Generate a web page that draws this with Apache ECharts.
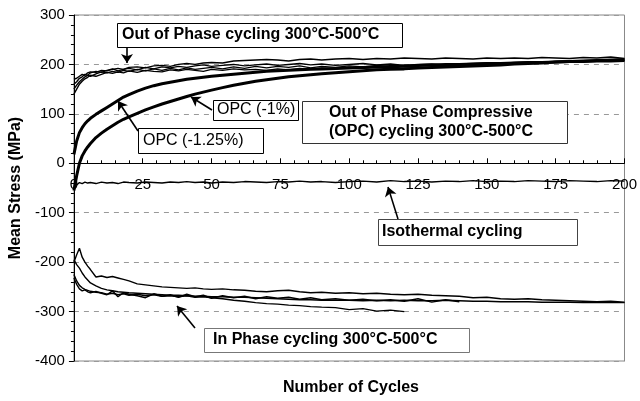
<!DOCTYPE html>
<html>
<head>
<meta charset="utf-8">
<script src="https://cdn.jsdelivr.net/npm/echarts@6.0.0/dist/echarts.min.js"></script>
<style>
  html, body { margin: 0; padding: 0; background: #fff; }
  #chart { width: 640px; height: 401px; }
</style>
</head>
<body>
<div id="chart"></div>
<script>
// cycle numbers shared by all the curves
var cycles = [0, 1, 2, 3, 4, 5, 6, 8, 10, 12, 14, 16, 18, 20, 23, 26, 29, 32, 35, 38,
  41, 44, 47, 50, 54, 58, 62, 66, 70, 74, 78, 82, 86, 90, 95, 100, 105, 110, 115, 120,
  125, 130, 135, 140, 145, 150, 155, 160, 165, 170, 175, 180, 185, 190, 195, 200];

// out of phase cycling (thin)
var oop1 = [170, 172, 176, 180, 178, 183, 185, 184, 188, 187, 190, 192, 190, 194, 195, 193, 197, 198, 196, 200,
  202, 200, 203, 204, 203, 207, 208, 209, 210, 209, 207, 210, 211, 209, 211, 212, 210, 212, 211, 213,
  212, 211, 213, 212, 211, 213, 212, 213, 212, 214, 213, 212, 214, 213, 215, 212];
var oop2 = [160, 165, 172, 175, 180, 178, 183, 186, 184, 188, 191, 187, 190, 192, 189, 194, 191, 195, 193, 196,
  194, 197, 199, 196, 198, 200, 197, 199, 201, 198, 200, 202, 199, 201, 198, 200, 202, 199, 201, 198,
  200, 201, 199, 201, 202, 203, 202, 204, 205, 204, 206, 207, 206, 208, 209, 208];
var oop3 = [150, 158, 165, 170, 175, 178, 176, 181, 185, 183, 186, 184, 188, 186, 190, 187, 191, 188, 192, 189,
  193, 190, 192, 194, 191, 195, 192, 196, 193, 196, 194, 197, 193, 196, 194, 197, 195, 198, 196, 198, 197];
var oop4 = [140, 150, 160, 166, 171, 174, 178, 176, 180, 184, 182, 185, 183, 187, 184, 188, 186, 185, 189, 187,
  190, 188, 186, 190, 188, 191, 189, 190, 188, 191, 189, 192, 190, 193, 191, 194, 192, 195, 193, 195, 194];

// out of phase compressive cycling (thick)
var opc125 = [18, 45, 62, 72, 80, 86, 91, 99, 106, 113, 120, 127, 134, 139, 146, 152, 157, 161, 164, 167,
  170, 172, 174, 176, 178, 180, 182, 184, 186, 187, 188, 189, 190, 191, 192, 193, 194, 195, 196, 197,
  198, 199, 200, 200, 201, 202, 202, 203, 204, 204, 205, 206, 206, 207, 207, 208];
var opc100 = [-55, -25, 0, 15, 25, 33, 40, 52, 61, 69, 76, 83, 89, 94, 101, 108, 114, 120, 125, 130,
  135, 140, 144, 148, 153, 158, 162, 166, 169, 172, 175, 177, 179, 181, 183, 185, 187, 189, 190, 191,
  193, 194, 195, 196, 197, 198, 199, 201, 202, 203, 205, 206, 207, 208, 209, 210];

// isothermal cycling
var iso = [-40, -44, -39, -41, -38, -40, -39, -41, -38, -40, -39, -41, -38, -39, -40, -38, -39, -40, -38, -39,
  -37, -39, -38, -40, -38, -39, -37, -38, -39, -37, -38, -36, -38, -37, -39, -37, -36, -38, -35, -37,
  -36, -38, -36, -37, -35, -37, -36, -37, -35, -36, -37, -35, -36, -37, -35, -36];

// in phase cycling (thin)
var ip1 = [-200, -185, -172, -190, -200, -208, -215, -230, -228, -231, -229, -232, -235, -238, -244, -246, -248, -250, -251, -252,
  -253, -252, -254, -255, -254, -256, -257, -259, -260, -258, -257, -260, -262, -261, -263, -262, -264, -263, -265, -266,
  -265, -267, -268, -269, -272, -271, -274, -275, -274, -276, -277, -278, -279, -280, -279, -281];
var ip2 = [-195, -205, -212, -222, -230, -236, -242, -248, -253, -256, -258, -260, -261, -262, -263, -264, -265, -266, -267, -267,
  -268, -269, -269, -270, -270, -271, -271, -272, -273, -274, -275, -276, -276, -277, -277, -277, -278, -277, -278, -277,
  -278, -278, -277, -278, -279, -279, -280, -280, -280, -281, -281, -281, -282, -282, -282, -282];
var ip3 = [-225, -238, -247, -252, -255, -257, -259, -261, -262, -265, -263, -266, -264, -267, -265, -268, -266, -269, -268, -270,
  -268, -271, -270, -272, -274, -277, -279, -282, -284, -285, -287, -288, -290, -291, -292, -296, -294, -299, -297, -300];
var ip4 = [-232, -245, -254, -258, -256, -260, -262, -259, -263, -266, -258, -270, -262, -265, -268, -272, -264, -269, -266, -271,
  -265, -270, -267, -273, -268, -272, -269, -274, -270, -273, -271, -275, -272, -276, -274, -277, -275, -278, -276, -279,
  -274, -281, -276, -280];

var yTicks = [-400, -300, -200, -100, 0, 100, 200, 300];
var xTicks = [0, 25, 50, 75, 100, 125, 150, 175, 200];

function pairs(ys) {
  return ys.map(function (v, i) { return [cycles[i], v]; });
}

var font = "'Liberation Sans', Arial, sans-serif";

function thin(name, ys) {
  return { name: name, type: 'line', data: pairs(ys), symbol: 'none', animation: false,
    lineStyle: { color: '#000', width: 1.4 }, z: 3 };
}
function thick(name, ys) {
  return { name: name, type: 'line', data: pairs(ys), symbol: 'none', animation: false,
    lineStyle: { color: '#000', width: 3 }, z: 4 };
}

// annotation box: rect + text lines
function box(x, y, w, h, lines, bold, size, stroke) {
  var els = [{
    type: 'rect', z: 100, shape: { x: x + 0.5, y: y + 0.5, width: w, height: h },
    style: { fill: '#fff', stroke: stroke, lineWidth: 1 }
  }];
  lines.forEach(function (l) {
    els.push({
      type: 'text', z: 101, x: l[0], y: l[1],
      style: { text: l[2], fill: '#000', font: (bold ? 'bold ' : '') + size + 'px ' + font,
        textAlign: 'left', textVerticalAlign: 'middle' }
    });
  });
  return els;
}

var graphics = [].concat(
  box(117, 23, 285, 24, [[122, 35, 'Out of Phase cycling 300°C-500°C']], true, 16, '#000'),
  box(302, 101, 265, 42, [[329, 113, 'Out of Phase Compressive'], [329, 132, '(OPC) cycling 300°C-500°C']], true, 16, '#333'),
  box(213, 100, 85, 20, [[217, 110, 'OPC (-1%)']], false, 16, '#000'),
  box(138, 128, 125, 25, [[143, 141, 'OPC (-1.25%)']], false, 16, '#000'),
  box(378, 219, 199, 26, [[382, 232, 'Isothermal cycling']], true, 16, '#444'),
  box(204, 328, 265, 24, [[213, 340, 'In Phase cycling 300°C-500°C']], true, 16, '#777'),
  [{
    type: 'text', z: 101, x: 351, y: 388,
    style: { text: 'Number of Cycles', fill: '#000', font: 'bold 16px ' + font,
      textAlign: 'center', textVerticalAlign: 'middle' }
  }]
);

var arrows = [
  [[127, 47], [127, 63]],
  [[212, 110], [191, 97]],
  [[138, 131], [118, 101]],
  [[398, 219], [388, 187]],
  [[195, 328], [177, 306]]
];

var isoSeries = thin('Isothermal cycling', iso);
isoSeries.markLine = {
  silent: true, animation: false, symbol: ['none', 'arrow'], symbolSize: 9,
  label: { show: false },
  lineStyle: { color: '#000', width: 1.6, type: 'solid' },
  data: arrows.map(function (a) {
    return [{ x: a[0][0], y: a[0][1] }, { x: a[1][0], y: a[1][1] }];
  })
};

var option = {
  animation: false,
  backgroundColor: '#fff',
  textStyle: { fontFamily: font },
  grid: { left: 72, right: 11, top: 15, bottom: 40, show: true, borderColor: '#888', borderWidth: 1 },
  xAxis: {
    type: 'value', min: xTicks[0], max: xTicks[xTicks.length - 1], interval: 25,
    axisLine: { onZero: false, lineStyle: { color: '#000', width: 1 } },
    axisTick: { inside: true, length: 5, lineStyle: { color: '#000' } },
    minorTick: { show: true, splitNumber: 5, length: 3, lineStyle: { color: '#000' } },
    axisLabel: { fontSize: 15, color: '#000', margin: 14, fontFamily: font },
    splitLine: { show: false }
  },
  yAxis: {
    type: 'value', min: yTicks[0], max: yTicks[yTicks.length - 1], interval: 100,
    name: 'Mean Stress (MPa)', nameLocation: 'middle', nameGap: 44,
    nameTextStyle: { fontSize: 16, fontWeight: 'bold', color: '#000', fontFamily: font },
    axisLine: { show: true, onZero: false, lineStyle: { color: '#000', width: 1 } },
    axisTick: { show: true, inside: false, length: 5, lineStyle: { color: '#000' } },
    minorTick: { show: true, splitNumber: 5, length: 3, lineStyle: { color: '#000' } },
    axisLabel: { fontSize: 15, color: '#000', margin: 9, fontFamily: font },
    splitLine: { show: true, lineStyle: { color: '#999', type: [5, 5], width: 1 } }
  },
  series: [
    thin('OOP 1', oop1), thin('OOP 2', oop2), thin('OOP 3', oop3), thin('OOP 4', oop4),
    thick('OPC (-1.25%)', opc125), thick('OPC (-1%)', opc100),
    isoSeries,
    thin('IP 1', ip1), thin('IP 2', ip2), thin('IP 3', ip3), thin('IP 4', ip4)
  ],
  graphic: graphics
};

var myChart = echarts.init(document.getElementById('chart'));
myChart.setOption(option);

// lift the x axis up to the zero stress line
var zeroY = myChart.convertToPixel({ yAxisIndex: 0 }, 0);
var bottomY = myChart.convertToPixel({ yAxisIndex: 0 }, yTicks[0]);
myChart.setOption({ xAxis: { offset: zeroY - bottomY } });
</script>
</body>
</html>
